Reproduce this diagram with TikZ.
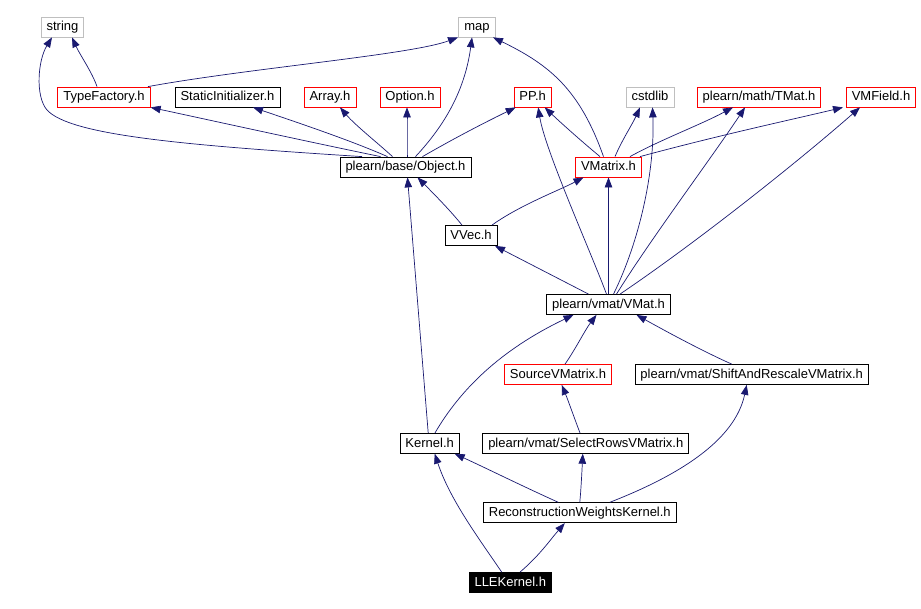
\documentclass[tikz,border=0pt]{standalone}
\usepackage{fontspec}
\setmainfont{Liberation Sans}
\usetikzlibrary{arrows.meta}
\definecolor{edgeblue}{RGB}{25,25,112}
\definecolor{extgray}{RGB}{191,191,191}
\tikzset{
  file/.style={draw=black, line width=0.8pt, minimum height=20pt, inner xsep=5.5pt,
    inner ysep=0pt, text height=7.5pt, text depth=0pt, font=\fontsize{13}{15}\selectfont},
  docfile/.style={file, draw=red},
  sysfile/.style={file, draw=extgray},
  mainfile/.style={file, fill=black, text=white},
  dep/.style={edgeblue, line width=0.7pt, -{Triangle[length=10pt,width=7.5pt]}}
}
\begin{document}
\begin{tikzpicture}[x=1pt,y=-1pt]
 \useasboundingbox (0,0) rectangle (921,609);
 % top row
 \node[sysfile] (string) at (62.5,27) {string};
 \node[sysfile] (map) at (477,27) {map};
 % headers pulled in by Object.h and VMatrix.h
 \node[docfile] (tf) at (104,97) {TypeFactory.h};
 \node[file] (si) at (227.5,97) {StaticInitializer.h};
 \node[docfile] (arr) at (330,97) {Array.h};
 \node[docfile] (opt) at (410,97) {Option.h};
 \node[docfile] (pp) at (532.7,97) {PP.h};
 \node[sysfile] (cstd) at (650,97) {cstdlib};
 \node[docfile] (tmat) at (759,97) {plearn/math/TMat.h};
 \node[docfile] (vmf) at (881,97) {VMField.h};
 \node[file] (obj) at (405.5,167) {plearn/base/Object.h};
 \node[docfile] (vmx) at (608.5,167) {VMatrix.h};
 \node[file] (vvec) at (471,235.5) {VVec.h};
 \node[file] (vmat) at (608.5,304.5) {plearn/vmat/VMat.h};
 \node[docfile] (src) at (558,374.5) {SourceVMatrix.h};
 \node[file] (shift) at (751.7,374.5) {plearn/vmat/ShiftAndRescaleVMatrix.h};
 \node[file] (kern) at (429.7,443.3) {Kernel.h};
 \node[file] (sel) at (585.8,443.3) {plearn/vmat/SelectRowsVMatrix.h};
 \node[file] (rwk) at (579.8,512.7) {ReconstructionWeightsKernel.h};
 \node[mainfile] (lle) at (510.3,582.5) {LLEKernel.h};

 % TypeFactory.h
 \draw[dep] ([xshift=-7pt]tf.north) .. controls (92,72) and (80,55) .. ([xshift=9.5pt]string.south);
 \draw[dep] ([xshift=44pt]tf.north) .. controls (250,68) and (410,55) .. ([xshift=-19pt]map.south);
 % Object.h
 \draw[dep] ([xshift=-43.5pt]obj.north) .. controls (180,145) and (70,135) .. (47,110)
   .. controls (35,96) and (38,60) .. ([xshift=-10.5pt]string.south);
 \draw[dep] ([xshift=-25pt]obj.north) .. controls (300,140) and (200,118) .. (tf.south east);
 \draw[dep] ([xshift=-18pt]obj.north) .. controls (350,140) and (290,120) .. ([xshift=25.5pt]si.south);
 \draw[dep] ([xshift=-13pt]obj.north) .. controls (380,145) and (355,125) .. ([xshift=10pt]arr.south);
 \draw[dep] ([xshift=1.5pt]obj.north) .. controls (407,140) and (407,125) .. ([xshift=-3pt]opt.south);
 \draw[dep] ([xshift=10pt]obj.north) .. controls (445,125) and (465,90) .. ([xshift=-5pt]map.south);
 \draw[dep] ([xshift=17pt]obj.north) .. controls (460,135) and (490,120) .. ([xshift=-17pt]pp.south);
 % VMatrix.h
 \draw[dep] ([xshift=-5pt]vmx.north) .. controls (580,90) and (550,65) .. ([xshift=16pt]map.south);
 \draw[dep] ([xshift=-8.5pt]vmx.north) .. controls (580,140) and (560,122) .. ([xshift=12pt]pp.south);
 \draw[dep] ([xshift=6.5pt]vmx.north) .. controls (622,140) and (632,125) .. ([xshift=-10pt]cstd.south);
 \draw[dep] ([xshift=21.5pt]vmx.north) .. controls (660,140) and (700,125) .. ([xshift=-26pt]tmat.south);
 \draw[dep] ([xshift=31.5pt]vmx.north) .. controls (720,135) and (790,120) .. ([xshift=-38pt]vmf.south);
 % VVec.h
 \draw[dep] ([xshift=-9pt]vvec.north) .. controls (450,210) and (430,190) .. ([xshift=12pt]obj.south);
 \draw[dep] ([xshift=21pt]vvec.north) .. controls (520,205) and (560,190) .. ([xshift=-25pt]vmx.south);
 % VMat.h
 \draw[dep] ([xshift=-20pt]vmat.north) -- ([xshift=24pt]vvec.south);
 \draw[dep] ([xshift=-2pt]vmat.north) .. controls (590,250) and (545,150) .. ([xshift=5.5pt]pp.south);
 \draw[dep] (vmat.north) -- (vmx.south);
 \draw[dep] ([xshift=5pt]vmat.north) .. controls (640,240) and (655,170) .. ([xshift=2.5pt]cstd.south);
 \draw[dep] ([xshift=8pt]vmat.north) .. controls (650,240) and (710,160) .. ([xshift=-14pt]tmat.south);
 \draw[dep] ([xshift=11.5pt]vmat.north) .. controls (700,240) and (800,160) .. ([xshift=-21pt]vmf.south);
 % second level
 \draw[dep] ([xshift=7pt]src.north) .. controls (575,350) and (585,330) .. ([xshift=-12pt]vmat.south);
 \draw[dep] ([xshift=-20pt]shift.north) .. controls (700,350) and (660,328) .. ([xshift=28pt]vmat.south);
 \draw[dep] ([xshift=-1.5pt]kern.north) -- ([xshift=2pt]obj.south);
 \draw[dep] ([xshift=5.3pt]kern.north) .. controls (460,390) and (500,350) .. ([xshift=-35pt]vmat.south);
 \draw[dep] ([xshift=-5.8pt]sel.north) .. controls (575,420) and (568,400) .. ([xshift=3.7pt]src.south);
 \draw[dep] ([xshift=30pt]rwk.north) .. controls (680,475) and (735,440) .. ([xshift=-5pt]shift.south);
 % bottom
 \draw[dep] ([xshift=-21.5pt]rwk.north) .. controls (520,485) and (490,470) .. ([xshift=25pt]kern.south);
 \draw[dep] (rwk.north) .. controls (581,490) and (582,470) .. ([xshift=-3pt]sel.south);
 \draw[dep] ([xshift=-8.6pt]lle.north) .. controls (480,540) and (450,500) .. ([xshift=5pt]kern.south);
 \draw[dep] ([xshift=9.7pt]lle.north) .. controls (540,555) and (550,540) .. ([xshift=-15pt]rwk.south);
\end{tikzpicture}
\end{document}
